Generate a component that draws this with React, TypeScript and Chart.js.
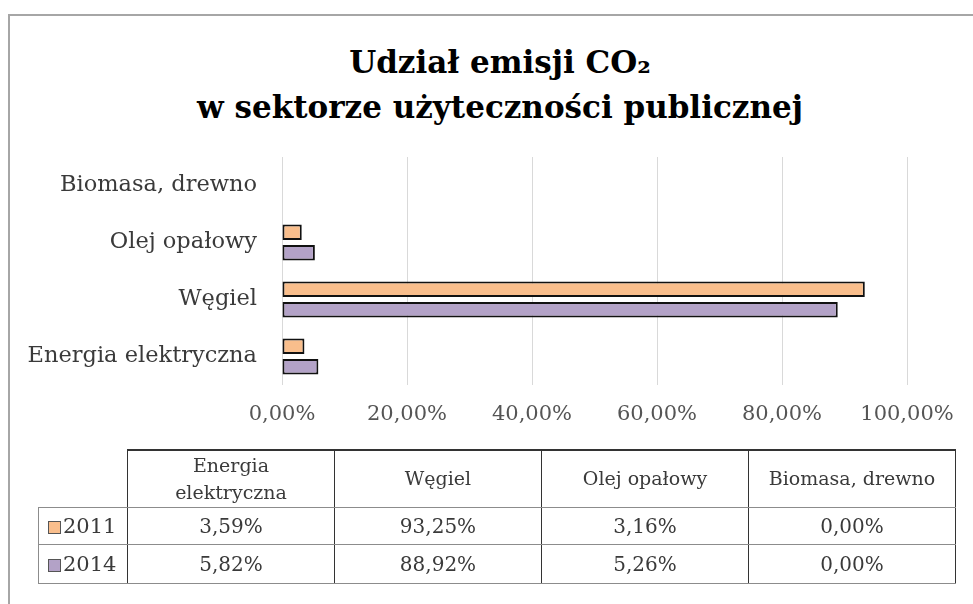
import { useEffect, useRef } from 'react';
import { Chart, registerables } from 'chart.js';

Chart.register(...registerables);

const categories = ['Energia elektryczna', 'Węgiel', 'Olej opałowy', 'Biomasa, drewno'];
const tableHeaders = ['Energia\nelektryczna', 'Węgiel', 'Olej opałowy', 'Biomasa, drewno'];
const seriesNames = ['2011', '2014'];
const values2011 = [3.59, 93.25, 3.16, 0.0];
const values2014 = [5.82, 88.92, 5.26, 0.0];
const xTicks = [0, 20, 40, 60, 80, 100];
const titleLines = ['Udział emisji CO₂', 'w sektorze użyteczności publicznej'];
const seriesColors = ['#F9BE8C', '#B3A2C7'];

const FONT = "'DejaVu Serif', serif";
const fmt = (v: number) => v.toFixed(2).replace('.', ',') + '%';

export default function App() {
  const ref = useRef<HTMLCanvasElement>(null);

  useEffect(() => {
    if (!ref.current) return;
    Chart.defaults.font.family = FONT;
    const series = [values2011, values2014];
    const chart = new Chart(ref.current, {
      type: 'bar',
      data: {
        labels: [...categories].reverse(),
        datasets: seriesNames.map((name, i) => ({
          label: name,
          data: [...series[i]].reverse(),
          backgroundColor: seriesColors[i],
          borderColor: '#111111',
          borderWidth: 2,
          borderSkipped: false,
          categoryPercentage: 0.72,
          barPercentage: 0.75,
        })),
      },
      options: {
        indexAxis: 'y',
        animation: false,
        responsive: false,
        devicePixelRatio: 1,
        layout: { padding: { left: 10, right: 66, top: 157, bottom: 169 } },
        plugins: {
          legend: { display: false },
          tooltip: { enabled: false },
          title: { display: false },
        },
        scales: {
          x: {
            min: 0,
            max: 100,
            afterBuildTicks: (s: any) => {
              s.ticks = xTicks.map((v) => ({ value: v }));
            },
            afterFit: (s: any) => {
              s.height = 50;
            },
            ticks: {
              callback: (v: any) => fmt(Number(v)),
              font: { family: FONT, size: 21 },
              color: '#555555',
              padding: 17,
              maxRotation: 0,
            },
            grid: { color: '#d9d9d9', lineWidth: 1, drawTicks: false },
            border: { display: false },
          },
          y: {
            afterFit: (s: any) => {
              s.width = 272;
            },
            ticks: {
              font: { family: FONT, size: 22.5 },
              color: '#3a3a3a',
              padding: 25,
            },
            grid: { display: false, drawTicks: false },
            border: { display: false },
          },
        },
      },
    });
    return () => chart.destroy();
  }, []);

  const dark = '1.5px solid #333333';
  const gray = '1.5px solid #8c8c8c';
  const cellBase: any = { padding: 0, textAlign: 'center', verticalAlign: 'middle' };
  const rows = [values2011, values2014];

  return (
    <div
      style={{
        position: 'absolute',
        left: 0,
        top: 0,
        width: 973,
        height: 604,
        overflow: 'hidden',
        background: '#ffffff',
      }}
    >
      <div
        style={{
          position: 'absolute',
          left: 8,
          top: 14,
          width: 990,
          height: 620,
          borderLeft: '2px solid #a6a6a6',
          borderTop: '2px solid #a6a6a6',
        }}
      />
      <div
        style={{
          position: 'absolute',
          left: 27,
          top: 40,
          width: 946,
          textAlign: 'center',
          fontFamily: FONT,
          fontWeight: 'bold',
          fontSize: 31,
          lineHeight: '45px',
          color: '#000000',
          whiteSpace: 'nowrap',
        }}
      >
        {titleLines.map((t, i) => (
          <div key={i}>{t}</div>
        ))}
      </div>
      <canvas
        ref={ref}
        width={973}
        height={604}
        style={{ position: 'absolute', left: 0, top: 0, width: 973, height: 604, display: 'block' }}
      />
      <table
        style={{
          position: 'absolute',
          left: 38,
          top: 449,
          borderCollapse: 'collapse',
          tableLayout: 'fixed',
          fontFamily: FONT,
          fontSize: 19,
          color: '#3a3a3a',
          width: 918,
        }}
      >
        <colgroup>
          <col style={{ width: 89 }} />
          {categories.map((c) => (
            <col key={c} style={{ width: 207 }} />
          ))}
        </colgroup>
        <tbody>
          <tr style={{ height: 57 }}>
            <td style={{ padding: 0, border: 'none' }} />
            {tableHeaders.map((h, i) => (
              <td
                key={i}
                style={{
                  ...cellBase,
                  borderTop: '2px solid #333333',
                  borderLeft: dark,
                  borderRight: dark,
                  borderBottom: gray,
                  whiteSpace: 'pre-line',
                  lineHeight: '27px',
                }}
              >
                {h}
              </td>
            ))}
          </tr>
          {rows.map((vals, r) => (
            <tr key={r} style={{ height: r === 0 ? 37 : 39 }}>
              <td
                style={{
                  ...cellBase,
                  textAlign: 'left',
                  borderLeft: gray,
                  borderTop: r === 0 ? gray : '1.5px solid #222',
                  borderBottom: gray,
                  borderRight: dark,
                  paddingLeft: 9,
                  fontSize: 21,
                  whiteSpace: 'nowrap',
                }}
              >
                <span
                  style={{
                    display: 'inline-block',
                    width: 11,
                    height: 11,
                    background: seriesColors[r],
                    border: '1px solid #555',
                    marginRight: 2,
                    verticalAlign: '-1px',
                  }}
                />
                {seriesNames[r]}
              </td>
              {vals.map((v, i) => (
                <td
                  key={i}
                  style={{
                    ...cellBase,
                    borderLeft: dark,
                    borderRight: dark,
                    borderTop: gray,
                    borderBottom: gray,
                    fontSize: 20,
                  }}
                >
                  {fmt(v)}
                </td>
              ))}
            </tr>
          ))}
        </tbody>
      </table>
    </div>
  );
}
